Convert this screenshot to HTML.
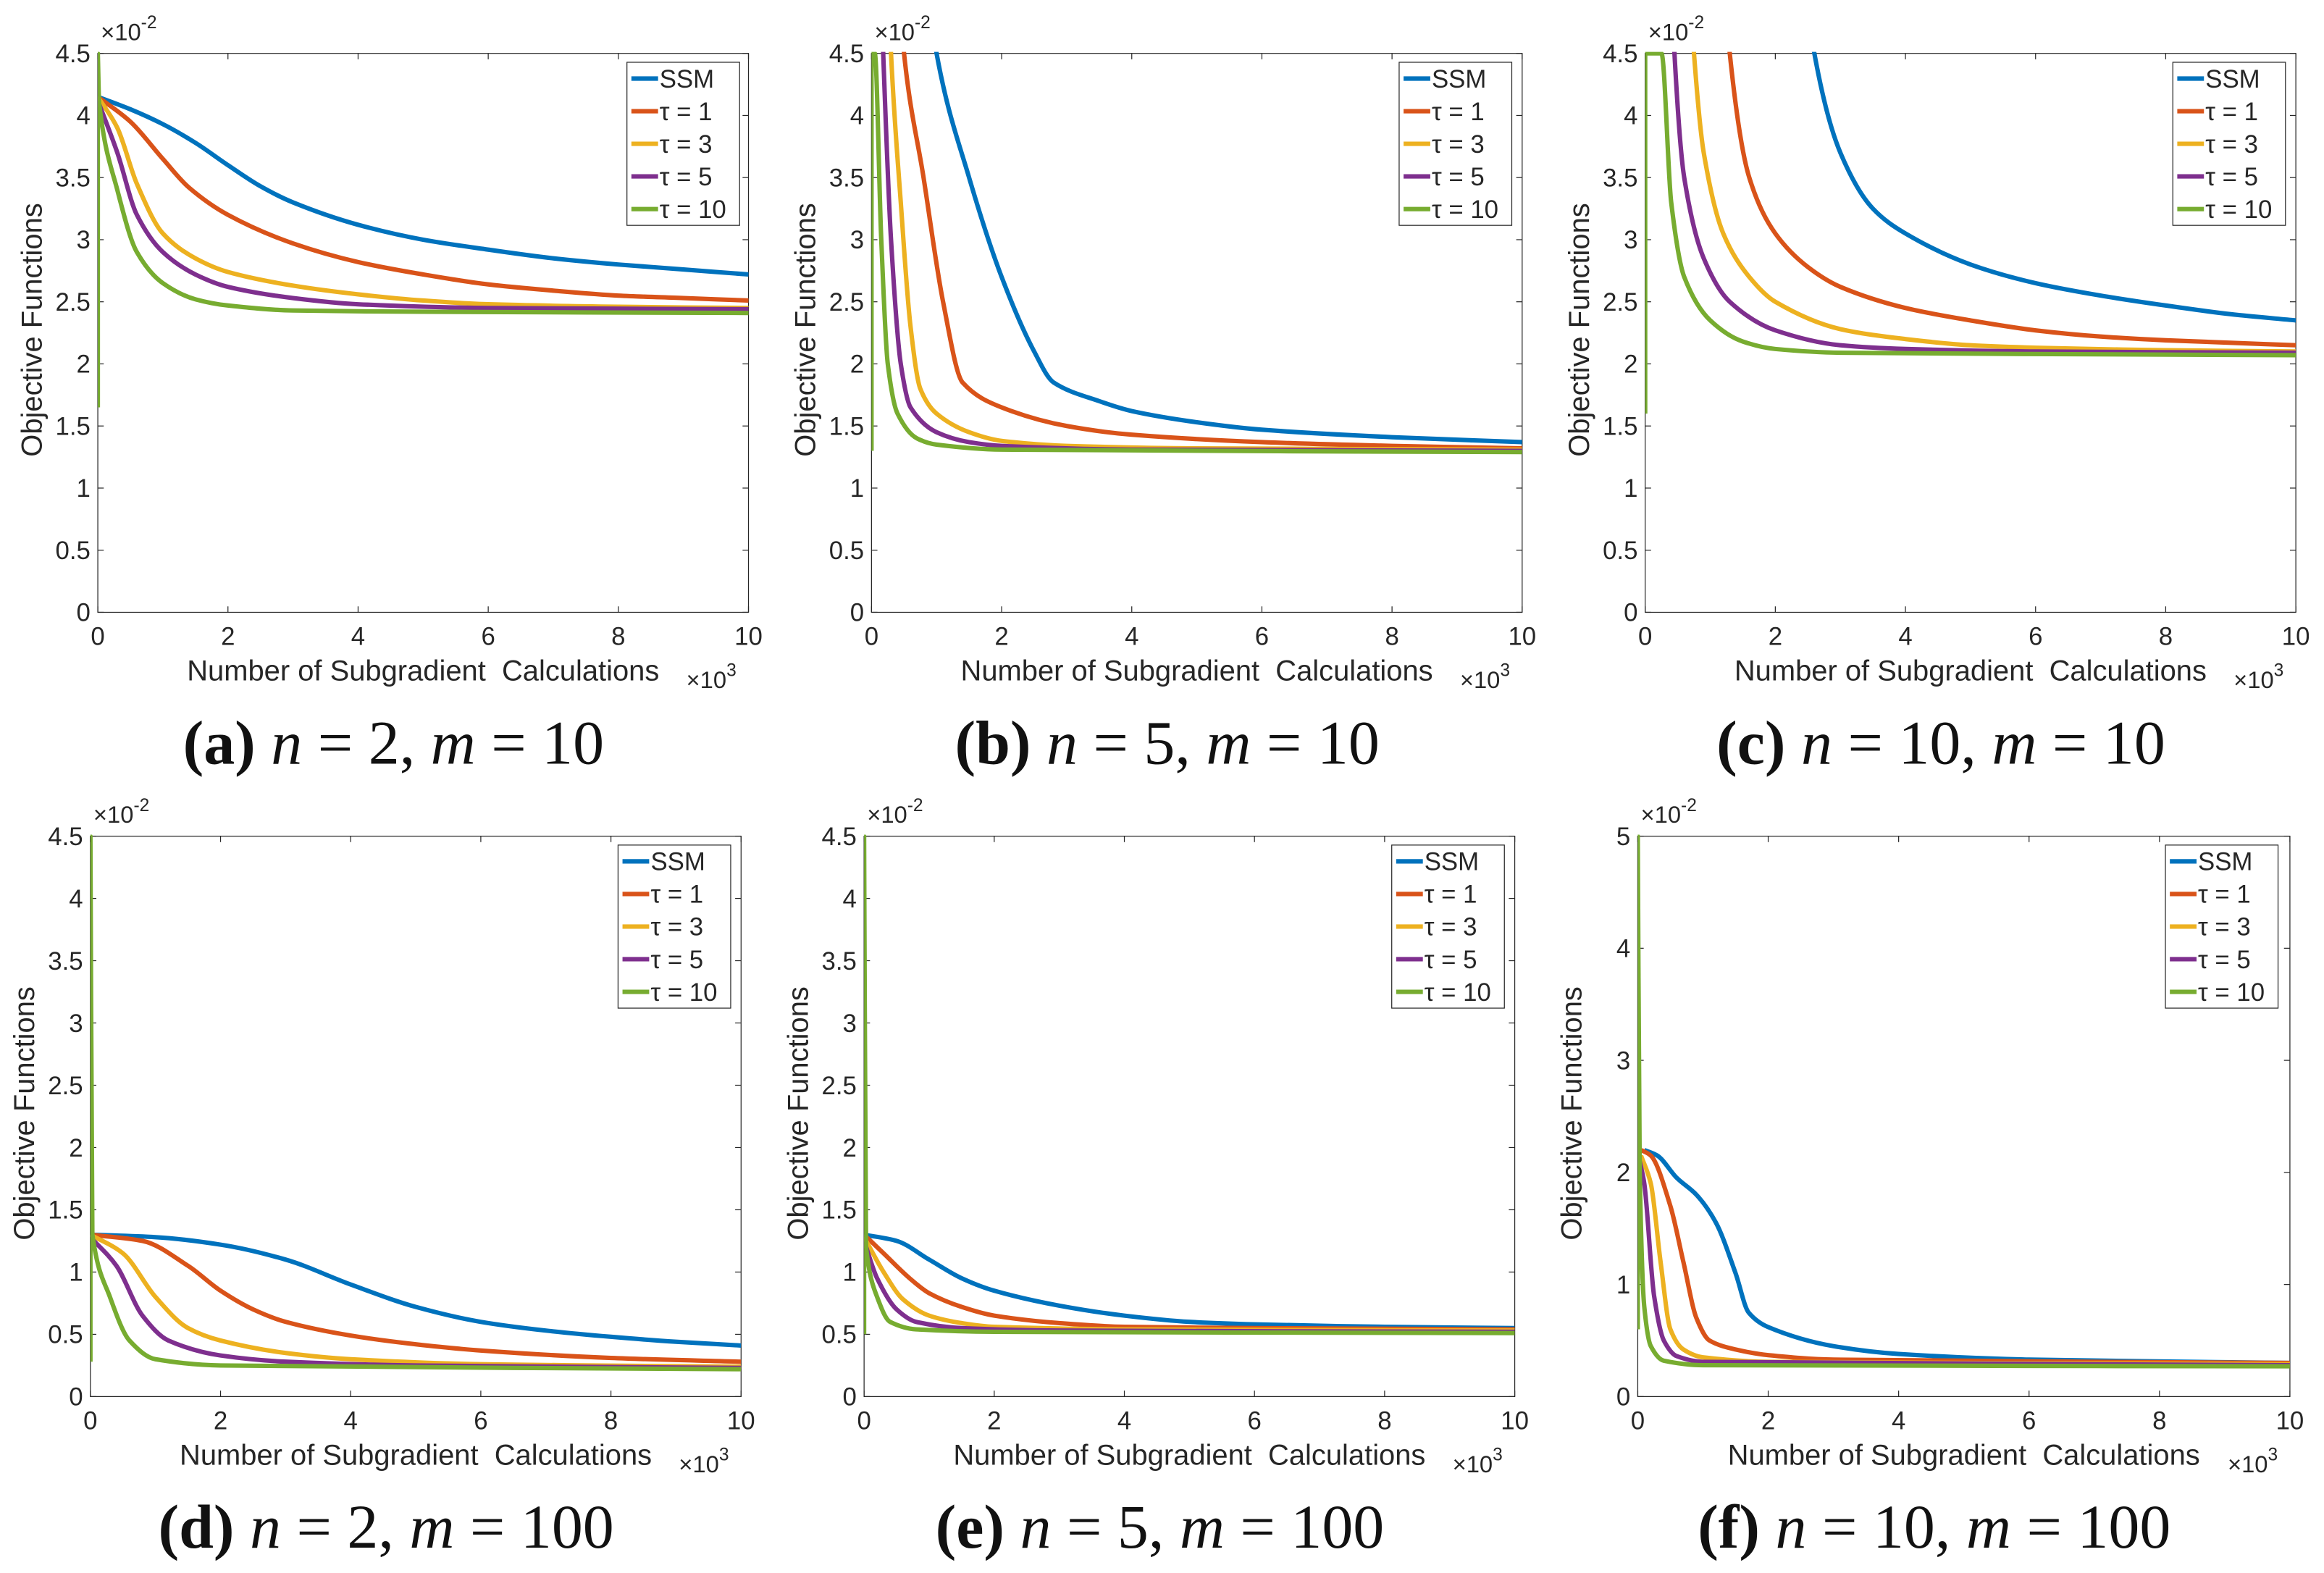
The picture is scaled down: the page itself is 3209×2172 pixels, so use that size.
<!DOCTYPE html>
<html><head><meta charset="utf-8"><style>
html,body{margin:0;padding:0;background:#fff}
svg{display:block}
text{font-family:"Liberation Sans",sans-serif;fill:#262626}
.cap{font-family:"Liberation Serif",serif;fill:#111;font-size:42px}
</style></head><body>
<svg id="fig" width="3209" height="2172" viewBox="0 0 1568 1061" preserveAspectRatio="none" xmlns="http://www.w3.org/2000/svg"></svg>
<script>
const seriesNames=["SSM","τ = 1","τ = 3","τ = 5","τ = 10"];
const seriesColors=["#0072BD","#D95319","#EDB120","#7E2F8E","#77AC30"];
const xTicks=[0,2,4,6,8,10];
const yTicks45=[0,0.5,1,1.5,2,2.5,3,3.5,4,4.5];
const yTicks5=[0,1,2,3,4,5];
const captions=[["(a)","2","10"],["(b)","5","10"],["(c)","10","10"],["(d)","2","100"],["(e)","5","100"],["(f)","10","100"]];
// data per panel: [x(thousands), y(x1e-2)]
const dataA=[
[[0,4.15],[0.5,4.05],[1,3.93],[1.5,3.78],[2,3.6],[2.5,3.43],[3,3.3],[4,3.12],[5,3.0],[6,2.92],[7,2.85],[8,2.8],[9,2.76],[10,2.72]],
[[0,4.15],[0.5,3.95],[1,3.65],[1.4,3.42],[2,3.2],[3,2.97],[4,2.82],[5,2.72],[6,2.64],[7,2.59],[8,2.55],[9,2.53],[10,2.51]],
[[0,4.15],[0.3,3.9],[0.6,3.45],[1,3.05],[1.5,2.85],[2,2.74],[3,2.63],[4,2.56],[5,2.51],[6,2.48],[8,2.46],[10,2.45]],
[[0,4.12],[0.3,3.7],[0.6,3.2],[1,2.9],[1.5,2.72],[2,2.62],[3,2.53],[4,2.48],[6,2.45],[10,2.44]],
[[0,1.65],[0,4.5],[0.02,4.1],[0.3,3.4],[0.6,2.9],[1,2.65],[1.5,2.52],[2,2.47],[3,2.43],[5,2.42],[10,2.41]]];
const dataB=[
[[0.9,5],[1.0,4.5],[1.5,3.5],[2,2.7],[2.5,2.1],[2.8,1.85],[3.5,1.7],[4,1.62],[5,1.53],[6,1.47],[8,1.41],[10,1.37]],
[[0.45,5],[0.5,4.5],[0.8,3.5],[1.1,2.5],[1.4,1.85],[2,1.65],[3,1.5],[4,1.43],[6,1.37],[8,1.34],[10,1.32]],
[[0.27,5],[0.3,4.5],[0.45,3.3],[0.6,2.3],[0.75,1.8],[1,1.6],[1.5,1.45],[2,1.38],[3,1.34],[5,1.32],[10,1.31]],
[[0.15,5],[0.18,4.5],[0.3,3.0],[0.45,2.0],[0.6,1.65],[1,1.45],[1.5,1.37],[2,1.34],[4,1.31],[10,1.3]],
[[0,1.3],[0,4.5],[0.05,4.5],[0.15,3.0],[0.25,2.0],[0.4,1.6],[0.7,1.4],[1,1.35],[2,1.31],[10,1.29]]];
const dataC=[
[[2.5,5],[2.6,4.5],[3,3.7],[3.5,3.25],[4,3.05],[5,2.8],[6,2.65],[7,2.55],[8,2.47],[9,2.4],[10,2.35]],
[[1.25,5],[1.3,4.5],[1.6,3.5],[2,3.05],[2.5,2.78],[3,2.62],[4,2.45],[5,2.35],[6,2.27],[7,2.22],[8,2.19],[9,2.17],[10,2.15]],
[[0.7,5],[0.75,4.5],[0.9,3.7],[1.2,3.05],[1.6,2.7],[2,2.5],[3,2.28],[4,2.2],[5,2.15],[6,2.13],[8,2.11],[10,2.1]],
[[0.42,5],[0.45,4.5],[0.6,3.5],[0.9,2.85],[1.3,2.5],[2,2.27],[3,2.15],[4,2.12],[6,2.1],[10,2.09]],
[[0,1.6],[0,4.5],[0.25,4.5],[0.4,3.3],[0.6,2.7],[1,2.35],[1.5,2.18],[2,2.12],[3,2.09],[10,2.07]]];
const dataD=[
[[0,1.3],[1,1.28],[2,1.22],[3,1.1],[4,0.9],[5,0.72],[6,0.6],[7,0.53],[8,0.48],[9,0.44],[10,0.41]],
[[0,1.3],[0.8,1.25],[1.5,1.05],[2,0.85],[2.5,0.7],[3,0.6],[4,0.49],[5,0.42],[6,0.37],[8,0.31],[10,0.28]],
[[0,1.3],[0.5,1.15],[1,0.8],[1.5,0.55],[2,0.45],[3,0.35],[4,0.3],[6,0.26],[10,0.24]],
[[0,1.28],[0.4,1.05],[0.8,0.65],[1.2,0.45],[2,0.33],[3,0.28],[5,0.25],[10,0.23]],
[[0,0.28],[0,4.5],[0.03,1.3],[0.3,0.8],[0.6,0.45],[1,0.3],[2,0.25],[10,0.22]]];
const dataE=[
[[0,1.3],[0.5,1.25],[1,1.1],[1.5,0.95],[2,0.85],[3,0.73],[4,0.65],[5,0.6],[6,0.58],[8,0.56],[10,0.55]],
[[0,1.3],[0.3,1.15],[0.7,0.95],[1,0.83],[1.5,0.72],[2,0.65],[3,0.59],[4,0.56],[6,0.55],[10,0.54]],
[[0,1.28],[0.3,1.0],[0.6,0.78],[1,0.65],[1.5,0.59],[2,0.56],[4,0.54],[10,0.53]],
[[0,1.25],[0.2,0.95],[0.5,0.7],[0.8,0.6],[1.5,0.55],[3,0.53],[10,0.52]],
[[0,0.5],[0,4.5],[0.03,1.2],[0.2,0.8],[0.4,0.6],[0.8,0.54],[2,0.52],[10,0.51]]];
const dataF=[
[[0.1,2.2],[0.3,2.15],[0.6,1.95],[0.9,1.8],[1.2,1.55],[1.5,1.1],[1.7,0.75],[2,0.62],[3,0.45],[4,0.38],[6,0.33],[10,0.3]],
[[0.05,2.2],[0.2,2.15],[0.5,1.7],[0.7,1.2],[0.9,0.7],[1.1,0.5],[1.5,0.42],[2,0.37],[3,0.33],[10,0.3]],
[[0.05,2.15],[0.2,1.9],[0.35,1.2],[0.5,0.6],[0.7,0.42],[1,0.35],[2,0.31],[10,0.29]],
[[0.03,2.1],[0.1,1.9],[0.25,0.9],[0.4,0.5],[0.6,0.36],[1,0.31],[10,0.28]],
[[0,0.6],[0,5],[0.03,2.0],[0.1,0.8],[0.2,0.45],[0.4,0.32],[1,0.28],[10,0.27]]];
const panelData=[dataA,dataB,dataC,dataD,dataE,dataF];
const panelYMax=[4.5,4.5,4.5,4.5,4.5,5];

const NS="http://www.w3.org/2000/svg";
const svg=document.getElementById('fig');
function mk(tag,attrs,parent){const e=document.createElementNS(NS,tag);for(const k in attrs)e.setAttribute(k,attrs[k]);(parent||svg).appendChild(e);return e;}
// monotone cubic path through pixel points; vertical segments drawn straight
function smoothPath(P){
  const n=P.length; const m=new Array(n).fill(0); const d=[];
  for(let i=0;i<n-1;i++){const dx=P[i+1][0]-P[i][0];d.push(dx>0.01?(P[i+1][1]-P[i][1])/dx:null);}
  for(let i=0;i<n;i++){
    const a=i>0?d[i-1]:null, b=i<n-1?d[i]:null;
    if(a===null&&b===null)m[i]=0;
    else if(a===null)m[i]=b;
    else if(b===null)m[i]=a;
    else m[i]=(a*b<=0)?0:2/(1/a+1/b);
  }
  let s='M'+P[0][0].toFixed(2)+','+P[0][1].toFixed(2);
  for(let i=0;i<n-1;i++){
    const [x0,y0]=P[i],[x1,y1]=P[i+1];
    if(d[i]===null){s+=' L'+x1.toFixed(2)+','+y1.toFixed(2);continue;}
    const h=(x1-x0)/3;
    s+=` C${(x0+h).toFixed(2)},${(y0+m[i]*h).toFixed(2)} ${(x1-h).toFixed(2)},${(y1-m[i+1]*h).toFixed(2)} ${x1.toFixed(2)},${y1.toFixed(2)}`;
  }
  return s;
}
const boxes=[[66,36,505,413],[588,36,1027,413],[1110,36,1549,413],[61,564,500,942],[583,564,1022,942],[1105,564,1545,942]];
const legX=[423,944,1466,417,939,1461];
boxes.forEach((b,p)=>{
  const [L,T,R,B]=b;
  const g=mk('g',{});
  
  
  const ymax=panelYMax[p];
  const xs=v=>L+(R-L)*v/10, ys=v=>B-(B-T)*v/ymax;
  const cp=mk('clipPath',{id:'cp'+p},g);mk('rect',{x:L,y:T-1,width:R-L,height:B-T+1},cp);
  const ax=mk('rect',{x:L,y:T,width:R-L,height:B-T,fill:'none',stroke:'#262626','stroke-width':0.6},g);
  
  xTicks.forEach(t=>{const x=xs(t);
    mk('line',{x1:x,x2:x,y1:B,y2:B-4,stroke:'#262626','stroke-width':0.6},g);
    mk('line',{x1:x,x2:x,y1:T,y2:T+4,stroke:'#262626','stroke-width':0.6},g);
    const tx=mk('text',{x:x,y:B+22,'text-anchor':'middle','font-size':17},g);tx.textContent=t;
    });
  (ymax===5?yTicks5:yTicks45).forEach(t=>{const y=ys(t);
    mk('line',{x1:L,x2:L+4,y1:y,y2:y,stroke:'#262626','stroke-width':0.6},g);
    mk('line',{x1:R,x2:R-4,y1:y,y2:y,stroke:'#262626','stroke-width':0.6},g);
    const tx=mk('text',{x:L-5,y:y+6,'text-anchor':'end','font-size':17},g);tx.textContent=t;
    });
  const xl=mk('text',{x:(L+R)/2,y:B+46,'text-anchor':'middle','font-size':19.5},g);
  xl.textContent='Number of Subgradient\u00A0 Calculations';
  
  const xm=mk('text',{x:R-42,y:B+51,'font-size':16},g);
  xm.innerHTML='×10<tspan dy="-8" font-size="12">3</tspan>';
  
  const ym=mk('text',{x:L+2,y:T-9,'font-size':16},g);
  ym.innerHTML='×10<tspan dy="-8" font-size="12">-2</tspan>';
  
  const ylx=L-38, yly=(T+B)/2-2;
  const yl=mk('text',{x:ylx,y:yly,'text-anchor':'middle','font-size':19.5,transform:`rotate(-90 ${ylx} ${yly})`},g);
  yl.textContent='Objective Functions';
  
  const sg=mk('g',{'clip-path':`url(#cp${p})`},g);
  panelData[p].forEach((ser,s)=>{
    const P=ser.map(d=>[xs(d[0]),ys(d[1])]);
    const pl=mk('path',{d:smoothPath(P),fill:'none',stroke:seriesColors[s],'stroke-width':3,'stroke-linejoin':'round'},sg);
    
    
  });
  const lx=legX[p], ly=T+6;
  const lg=mk('g',{},g);
  
  mk('rect',{x:lx,y:ly,width:76,height:110,fill:'#fff',stroke:'#262626','stroke-width':0.6},lg);
  seriesNames.forEach((n,s)=>{const yy=ly+11+s*22;
    const sw=mk('line',{x1:lx+3,x2:lx+21,y1:yy,y2:yy,stroke:seriesColors[s],'stroke-width':3},lg);
    
    const t=mk('text',{x:lx+22,y:yy+6,'font-size':17},lg);t.textContent=n;
    });
  const c=captions[p];
  const ct=mk('text',{x:(L+R)/2-20,y:B+102,'text-anchor':'middle',class:'cap'},g);
  ct.innerHTML=`<tspan font-weight="bold">${c[0]}</tspan> <tspan font-style="italic">n</tspan> = ${c[1]}, <tspan font-style="italic">m</tspan> = ${c[2]}`;
  ct.setAttribute('xml:space','preserve');
  
});
</script>
</body></html>
